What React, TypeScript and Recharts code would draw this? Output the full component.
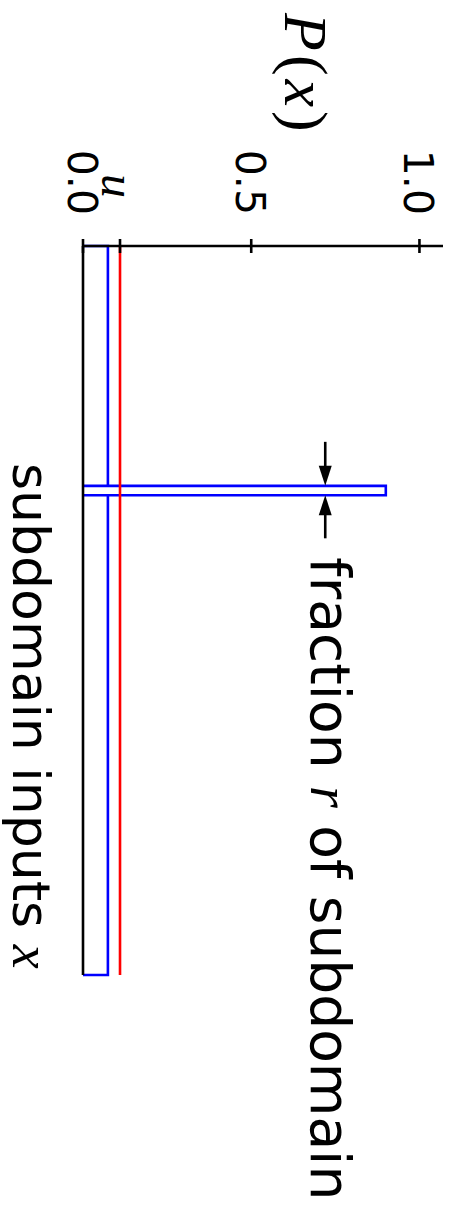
import { ComposedChart, Label, Line, ReferenceDot, ReferenceLine, XAxis, YAxis } from "recharts";

// histogram of P(x) over the subdomain: bin edges and the density of each bin
const binEdges = [0, 0.329, 0.342, 1];
const binDensity = [0.074, 0.9, 0.074];
// uniform level u
const threshold = 0.11;
const pTicks = [0, threshold, 0.5, 1];
const pTickLabels = ["0.0", "u", "0.5", "1.0"];
// height at which the "fraction r" arrows sit
const arrowLevel = 0.72;

const CHART_W = 1205;
const CHART_H = 454;
const SANS = "DejaVu Sans";
const MATH = "Liberation Serif";

// each bin drawn as an open rectangle: up the left edge, across, down the right edge
const outline: { x: number; p: number }[] = [];
binDensity.forEach((p, i) => {
  const a = binEdges[i];
  const b = binEdges[i + 1];
  outline.push({ x: a, p: 0 }, { x: a, p }, { x: b, p }, { x: b, p: 0 });
});

function PTick(props: any) {
  const { x, y, index } = props;
  const label = pTickLabels[index];
  const isMath = label === "u";
  return (
    <g>
      <line x1={x - 7} x2={x + 7} y1={y} y2={y} stroke="#000" strokeWidth={2.6} />
      {isMath ? (
        <text x={x - 48} y={y + 18} textAnchor="end" fontFamily={MATH} fontStyle="italic" fontSize={48} fill="#000">
          {label}
        </text>
      ) : (
        <text x={x - 31} y={y + 15} textAnchor="end" fontFamily={SANS} fontSize={41} fill="#000">
          {label}
        </text>
      )}
    </g>
  );
}

function PLabel(props: any) {
  const { viewBox } = props;
  return (
    <text x={13} y={viewBox.y + 158} fontSize={62} fill="#000" letterSpacing={4}>
      <tspan fontFamily={MATH} fontStyle="italic">P</tspan>
      <tspan fontFamily={MATH}>(</tspan>
      <tspan fontFamily={MATH} fontStyle="italic">x</tspan>
      <tspan fontFamily={MATH}>)</tspan>
    </text>
  );
}

function XLabel(props: any) {
  const { viewBox } = props;
  return (
    <text x={viewBox.x + 217} y={viewBox.y + 70} fontFamily={SANS} fontSize={52} fill="#000">
      subdomain inputs{" "}
      <tspan fontFamily={MATH} fontStyle="italic" fontSize={54}>x</tspan>
    </text>
  );
}

// arrow pointing onto the near edge of the spike
function ArrowIn(props: any) {
  const { cx, cy } = props;
  return (
    <g>
      <line x1={cx - 44} x2={cx - 19} y1={cy} y2={cy} stroke="#000" strokeWidth={2.6} />
      <polygon points={`${cx},${cy} ${cx - 20},${cy - 6.5} ${cx - 20},${cy + 6.5}`} fill="#000" />
    </g>
  );
}

// arrow pointing back onto the far edge, followed by the annotation text
function ArrowOut(props: any) {
  const { cx, cy } = props;
  return (
    <g>
      <line x1={cx + 19} x2={cx + 43} y1={cy} y2={cy} stroke="#000" strokeWidth={2.6} />
      <polygon points={`${cx},${cy} ${cx + 20},${cy - 6.5} ${cx + 20},${cy + 6.5}`} fill="#000" />
      <text x={cx + 62} y={cy + 14} fontFamily={SANS} fontSize={55} fill="#000">
        fraction{" "}
        <tspan fontFamily={MATH} fontStyle="italic" fontSize={56}>r</tspan>
        {" "}of subdomain
      </text>
    </g>
  );
}

export default function App() {
  return (
    <div style={{ position: "absolute", left: 0, top: 0, width: CHART_H, height: CHART_W, overflow: "hidden", background: "#fff" }}>
      <div
        style={{
          width: CHART_W,
          height: CHART_H,
          transformOrigin: "0 0",
          transform: `translateX(${CHART_H}px) rotate(90deg)`,
        }}
      >
        <ComposedChart
          width={CHART_W}
          height={CHART_H}
          data={outline}
          margin={{ top: 11, right: 230, bottom: 53, left: 186 }}
        >
          <XAxis
            type="number"
            dataKey="x"
            domain={[0, 1]}
            tick={false}
            tickLine={false}
            axisLine={{ stroke: "#000", strokeWidth: 2.6 }}
            height={30}
          >
            <Label content={XLabel} />
          </XAxis>
          <YAxis
            type="number"
            dataKey="p"
            domain={[0, 1.07]}
            ticks={pTicks}
            tick={PTick}
            tickLine={false}
            tickSize={0}
            tickMargin={0}
            interval={0}
            axisLine={{ stroke: "#000", strokeWidth: 2.6 }}
            width={60}
          >
            <Label content={PLabel} />
          </YAxis>
          <Line
            type="linear"
            dataKey="p"
            stroke="#0000ff"
            strokeWidth={2.6}
            dot={false}
            activeDot={false}
            isAnimationActive={false}
          />
          <ReferenceLine y={threshold} stroke="#ff0000" strokeWidth={2.6} />
          <ReferenceDot x={binEdges[1]} y={arrowLevel} shape={ArrowIn} />
          <ReferenceDot x={binEdges[2]} y={arrowLevel} shape={ArrowOut} />
        </ComposedChart>
      </div>
    </div>
  );
}
